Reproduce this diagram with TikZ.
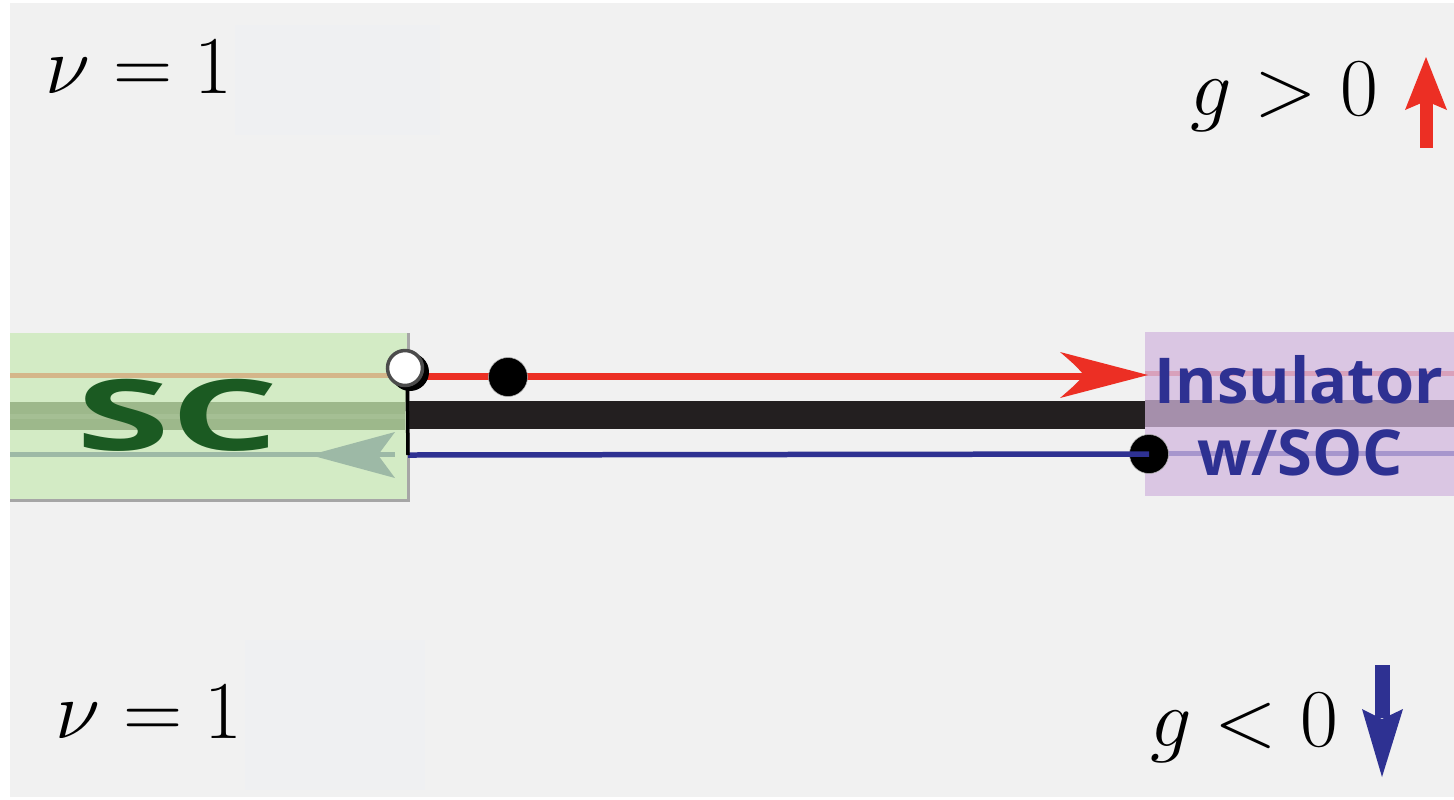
\documentclass[tikz,border=0pt]{standalone}
\usepackage{fontspec}
\newfontfamily\boxfont{Open Sans}
\begin{document}
\definecolor{bggray}{HTML}{F1F1F1}
\definecolor{patchgray}{HTML}{EFF0F2}
\definecolor{scfill}{HTML}{D3EBC5}
\definecolor{scband}{HTML}{9DB88B}
\definecolor{scbandmid}{HTML}{A5BF94}
\definecolor{sctan}{HTML}{D4B68A}
\definecolor{scteal}{HTML}{9DB9A6}
\definecolor{scgreen}{HTML}{1B5A22}
\definecolor{insfill}{HTML}{DAC6E3}
\definecolor{insband}{HTML}{A58FAB}
\definecolor{inspink}{HTML}{D8A1BB}
\definecolor{inslilac}{HTML}{A796CD}
\definecolor{edgered}{HTML}{EC2F24}
\definecolor{edgeblue}{HTML}{2E3192}
\definecolor{barblack}{HTML}{231F20}
\newcommand{\biglabel}[1]{\scalebox{1.88}{$#1$}}
\tikzset{
  mathlabel/.style={anchor=base west, inner sep=0pt, font=\fontsize{24.88}{30}\selectfont},
  boxtext/.style={anchor=base, inner sep=0pt, text=edgeblue, font=\boxfont\bfseries\fontsize{36}{40}\selectfont},
  blackdot/.style={circle, fill=black, draw=gray!60, line width=0.3pt, inner sep=0pt, minimum size=0.78cm},
  opendot/.style={circle, fill=white, draw=black!70, line width=0.07cm, inner sep=0pt, minimum size=0.7cm},
}
\begin{tikzpicture}[x=0.02cm, y=-0.02cm]
  % canvas
  \fill[white] (0,0) rectangle (1454,799);
  \useasboundingbox (0,0) rectangle (1454,799);
  \fill[bggray] (10,3) rectangle (1454,797);
  \fill[patchgray] (235,25) rectangle (440,135);
  \fill[patchgray] (245,640) rectangle (425,790);

  % superconductor block
  \node[anchor=north west, fill=scfill, inner sep=0pt, minimum width=398*0.02cm, minimum height=167*0.02cm] (sc) at (10,333) {};
  \fill[sctan] (10,373) rectangle (405,378);
  \fill[scband] (10,402) rectangle (405,430);
  \fill[scbandmid] (10,414) rectangle (405,419);
  \fill[scteal] (10,452) rectangle (395,457);
  \fill[scteal] (310,455) -- (395,432) -- (378,455) -- (395,478) -- cycle;
  \node[anchor=base west, inner sep=0pt, text=scgreen, font=\boxfont\bfseries\fontsize{56}{60}\selectfont] (sclabel) at (76,450) {\scalebox{1.73}[1]{SC}};
  \draw[gray!70, line width=0.05cm] (sc.north east) -- (sc.south east) -- (sc.south west);

  % insulator block
  \node[anchor=north west, fill=insfill, inner sep=0pt, minimum width=309*0.02cm, minimum height=164*0.02cm] (ins) at (1145,332) {};
  \fill[inspink] (1145,371) rectangle (1454,376);
  \fill[insband] (1145,400) rectangle (1454,427);
  \fill[inslilac] (1145,451) rectangle (1454,456);
  \node[boxtext] (inslabel) at (1299,403) {Insulator};
  \node[boxtext] (soclabel) at (1300,475) {w/SOC};

  % wire and edge channels
  \coordinate (barL) at (408,415);
  \coordinate (barR) at (1145,415);
  \draw[barblack, line width=0.56cm] (barL) -- (barR);
  \coordinate (redR) at (1090,376);
  \coordinate (blueL) at (408,455);
  \node[blackdot] (dotB) at (1149,454) {};
  \draw[edgeblue, line width=0.11cm] (blueL) -- (dotB.center);
  \coordinate (vtop) at (407,368);
  \draw[black, line width=0.07cm] (vtop) -- (blueL);
  \coordinate (redL) at (408,376);
  \draw[edgered, line width=0.14cm] (redL) -- (redR);
  \fill[edgered] (1148,375) -- (1060,352) .. controls (1075,365) .. (1084,375) .. controls (1075,385) .. (1060,398) -- cycle;
  \node[blackdot] (dotA) at (508,377) {};

  % open end point with drop shadow
  \fill[black] (410,372) circle (0.38cm);
  \node[opendot] (dotO) at (405,368) {};

  % labels
  \node[mathlabel] (nuT) at (45,93) {\biglabel{\nu=1}};
  \node[mathlabel] (gpos) at (1190,115) {\biglabel{g>0}};
  \node[mathlabel] (nuB) at (55,738) {\biglabel{\nu=1}};
  \node[mathlabel] (gneg) at (1150,746) {\biglabel{g<0}};

  % spin arrows
  \fill[edgered] (1420,100) rectangle (1433,148);
  \fill[edgered] (1426,57) -- (1447,110) -- (1426,101) -- (1405,110) -- cycle;
  \fill[edgeblue] (1375,665) rectangle (1390,718);
  \fill[edgeblue] (1382,777) -- (1362,709) -- (1382,719) -- (1403,709) -- cycle;
\end{tikzpicture}
\end{document}
